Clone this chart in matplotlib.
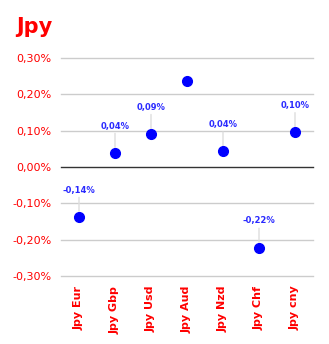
import matplotlib.pyplot as plt
from matplotlib.ticker import FuncFormatter

pairs = ['Jpy Eur', 'Jpy Gbp', 'Jpy Usd', 'Jpy Aud', 'Jpy Nzd', 'Jpy Chf', 'Jpy cny']
changes = [-0.137, 0.039, 0.091, 0.237, 0.043, -0.222, 0.096]
labels = ['-0,14%', '0,04%', '0,09%', None, '0,04%', '-0,22%', '0,10%']
yticks = [-0.3, -0.2, -0.1, 0.0, 0.1, 0.2, 0.3]

fig = plt.figure(figsize=(3.29, 3.44), dpi=100)
ax = fig.add_axes([61 / 329, 1 - 276 / 344, 252 / 329, 218 / 344])

x = list(range(len(pairs)))

# grid lines
for t in yticks:
    if t == 0:
        ax.axhline(t, color='#333333', lw=1.0, zorder=1, clip_on=False)
    else:
        ax.axhline(t, color='#cccccc', lw=1.0, zorder=1, clip_on=False)

ax.plot(x, changes, 'o', color='#0000ff', markersize=7, zorder=3)

# data labels with a small leader line
for xi, v, lab in zip(x, changes, labels):
    if lab is None:
        continue
    ax.annotate(lab, xy=(xi, v), xytext=(0, 16), textcoords='offset points',
                ha='center', va='bottom', fontsize=6, fontweight='bold', color='#2a2aff',
                arrowprops=dict(arrowstyle='-', color='#dddddd', lw=1,
                                shrinkA=0, shrinkB=4), zorder=2)

ax.set_xlim(-0.5, len(pairs) - 0.5)
ax.set_ylim(-0.3, 0.3)
ax.set_yticks(yticks)
ax.yaxis.set_major_formatter(FuncFormatter(lambda v, p: f"{v:.2f}".replace('.', ',') + '%'))
ax.set_xticks(x)
ax.set_xticklabels(pairs, rotation=90, fontsize=8, fontweight='bold', color='red')
ax.tick_params(axis='y', length=0, labelsize=8, labelcolor='red', pad=7)
ax.tick_params(axis='x', length=0, pad=7)
for s in ax.spines.values():
    s.set_visible(False)

fig.text(16 / 329, 1 - 27 / 344, 'Jpy', color='red', fontsize=15, fontweight='bold', va='center', ha='left')

fig.savefig('out.png', dpi=100)
